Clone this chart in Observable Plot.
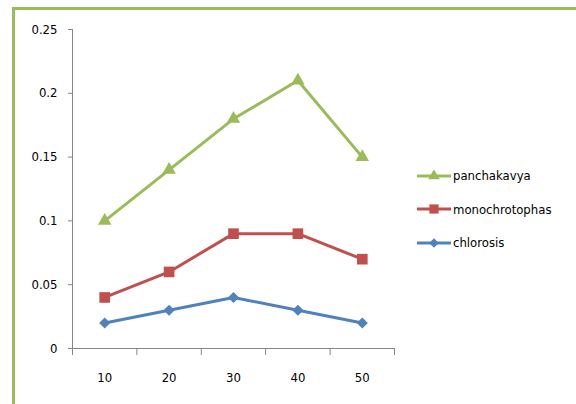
<!DOCTYPE html>
<html>
<head>
<meta charset="utf-8">
<script src="https://cdn.jsdelivr.net/npm/d3@7"></script>
<script src="https://cdn.jsdelivr.net/npm/@observablehq/plot@0.6"></script>
<style>
  html, body { margin: 0; padding: 0; width: 576px; height: 404px; overflow: hidden; background: #fff; }
  #wrap { position: relative; width: 576px; height: 404px; }
  #frame { position: absolute; left: 12px; top: 7px; width: 620px; height: 440px; border: 3px solid #9bbb59; box-sizing: border-box; }
  #chart { position: absolute; left: 0; top: 0; }
  #legend { position: absolute; left: 417px; top: 159px; font-family: "Liberation Sans Narrow", "DejaVu Sans Condensed", sans-serif; font-size: 13px; color: #000; }
  .item { display: flex; align-items: center; height: 33.5px; }
  .item svg { margin-right: 2px; }
</style>
</head>
<body>
<div id="wrap">
  <div id="frame"></div>
  <div id="chart"></div>
  <div id="legend"></div>
</div>
<script>
// Categories on the horizontal axis
const categories = [10, 20, 30, 40, 50];

// Series values
const panchakavya = [0.10, 0.14, 0.18, 0.21, 0.15];
const monochrotophas = [0.04, 0.06, 0.09, 0.09, 0.07];
const chlorosis = [0.02, 0.03, 0.04, 0.03, 0.02];

// Vertical tick values
const yTicks = [0, 0.05, 0.1, 0.15, 0.2, 0.25];

const series = [
  {name: "panchakavya", values: panchakavya, color: "#9bbb59", symbol: "triangle", r: 5},
  {name: "monochrotophas", values: monochrotophas, color: "#c0504d", symbol: "square", r: 6},
  {name: "chlorosis", values: chlorosis, color: "#4f81bd", symbol: "diamond2", r: 5}
];

const rows = series.flatMap(s => s.values.map((v, i) => ({series: s.name, x: categories[i], y: v})));

// Category slots are 10 units wide; boundaries sit halfway between categories
const step = categories[1] - categories[0];
const boundaries = [categories[0] - step / 2, ...categories.map(c => c + step / 2)];

const font = "'Liberation Sans Narrow', 'DejaVu Sans Condensed', sans-serif";

const marks = [
  Plot.ruleY([0], {stroke: "#868686"}),
  Plot.ruleX([boundaries[0]], {stroke: "#868686"}),
  Plot.axisY({ticks: yTicks, tickFormat: d => String(d), tickSize: 4, tickPadding: 11, stroke: "#868686", fontSize: 13, label: null}),
  Plot.axisX({ticks: boundaries, tickFormat: () => "", tickSize: 7, stroke: "#868686", label: null}),
  Plot.axisX({ticks: categories, tickFormat: d => String(d), tickSize: 0, tickPadding: 24, fontSize: 13, label: null})
];
for (const s of series) {
  const data = rows.filter(d => d.series === s.name);
  marks.push(Plot.line(data, {x: "x", y: "y", stroke: s.color, strokeWidth: 3}));
  marks.push(Plot.dot(data, {x: "x", y: "y", fill: s.color, symbol: () => s.symbol, r: s.r, stroke: "none"}));
}

const chart = Plot.plot({
  width: 576,
  height: 404,
  marginLeft: 72,
  marginRight: 182,
  marginTop: 29,
  marginBottom: 56,
  style: {fontFamily: font, fontSize: "13px", color: "#000", background: "transparent", overflow: "visible"},
  x: {type: "linear", domain: [boundaries[0], boundaries[boundaries.length - 1]]},
  y: {domain: [0, 0.25]},
  symbol: {type: "identity"},
  marks
});
document.getElementById("chart").appendChild(chart);

// Legend
const legend = document.getElementById("legend");
const symbols = {triangle: d3.symbolTriangle, square: d3.symbolSquare, diamond2: d3.symbolDiamond2};
for (const s of series) {
  const item = document.createElement("div");
  item.className = "item";
  const svg = d3.create("svg").attr("width", 34).attr("height", 12);
  svg.append("line").attr("x1", 0).attr("x2", 34).attr("y1", 6).attr("y2", 6).attr("stroke", s.color).attr("stroke-width", 3);
  svg.append("path").attr("transform", "translate(17,6)").attr("fill", s.color)
    .attr("d", d3.symbol(symbols[s.symbol], Math.PI * s.r * s.r * 0.75)());
  item.appendChild(svg.node());
  const label = document.createElement("span");
  label.textContent = s.name;
  item.appendChild(label);
  legend.appendChild(item);
}
</script>
</body>
</html>
